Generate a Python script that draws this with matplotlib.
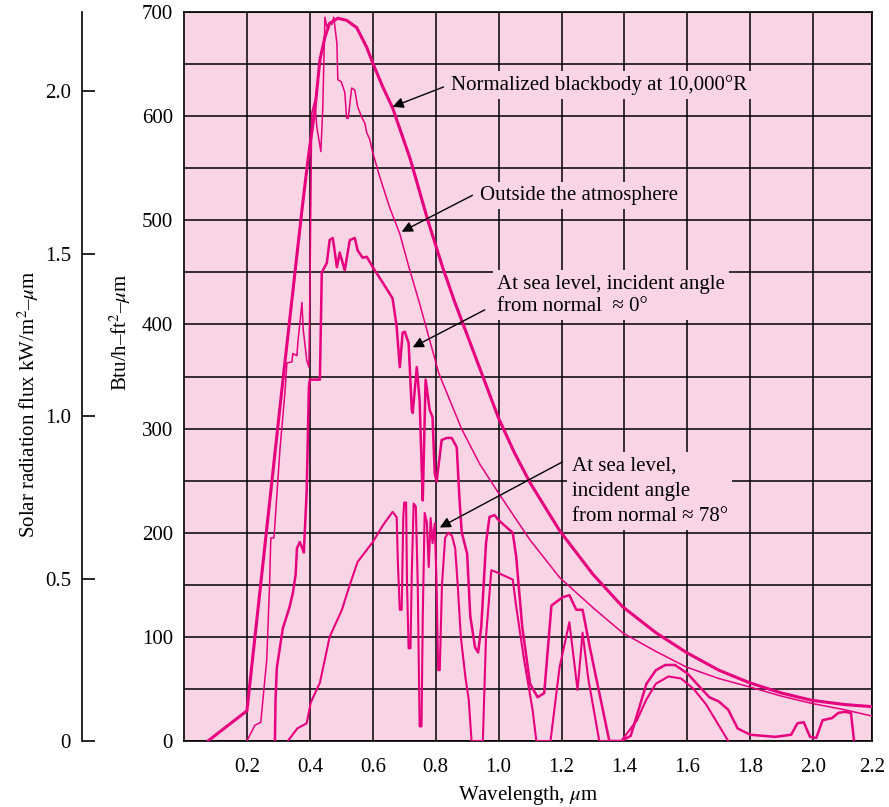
#!/usr/bin/python
"""Solar spectral irradiance vs. a normalized blackbody curve."""
import matplotlib
matplotlib.use('Agg')
from matplotlib import pyplot as plt
from matplotlib.ticker import MultipleLocator

plt.rcParams['font.family'] = ['Liberation Serif', 'DejaVu Serif']
plt.rcParams['mathtext.fontset'] = 'stix'

# Normalized blackbody at 10,000 R (Btu/h-ft2-um).
bb_wl = [0.076, 0.2, 0.311, 0.375, 0.394, 0.416, 0.432, 0.448, 0.463, 0.489,
         0.517, 0.549, 0.581, 0.6, 0.632, 0.663, 0.695, 0.72, 0.775, 0.822,
         0.86, 0.9, 0.95, 1.0, 1.05, 1.1, 1.194, 1.3, 1.394, 1.5,
         1.597, 1.7, 1.797, 1.9, 1.997, 2.1, 2.187]
bb_flux = [0, 29, 337, 510, 558, 606, 654, 676, 689, 694,
           692, 685, 666, 651, 628, 608, 580, 558, 500, 455,
           422, 390, 350, 310, 277, 248, 202, 160, 129, 104,
           85, 68, 56, 46, 39, 35, 33]

# Outside the atmosphere.
et_wl = [0.2, 0.225, 0.244, 0.263, 0.272, 0.276, 0.286, 0.305, 0.321, 0.327,
         0.343, 0.346, 0.359, 0.362, 0.375, 0.379, 0.39, 0.397, 0.401, 0.406,
         0.416, 0.422, 0.435, 0.441, 0.448, 0.454, 0.463, 0.47, 0.476, 0.486,
         0.489, 0.5, 0.511, 0.517, 0.522, 0.533, 0.543, 0.552, 0.565, 0.575,
         0.581, 0.59, 0.6, 0.622, 0.654, 0.686, 0.715, 0.749, 0.81, 0.882,
         0.94, 1.0, 1.1, 1.194, 1.3, 1.394, 1.5, 1.597, 1.7, 1.797,
         1.9, 1.997, 2.1, 2.187]
et_flux = [0, 15, 18, 78, 150, 195, 195, 280, 335, 363,
           364, 372, 370, 383, 421, 395, 366, 359, 450, 603,
           615, 590, 566, 606, 695, 686, 690, 688, 695, 670,
           635, 633, 623, 598, 598, 627, 625, 609, 599, 593,
           584, 578, 565, 542, 512, 487, 455, 420, 353, 300,
           266, 238, 193, 157, 128, 104, 86, 71, 60, 52,
           43, 36, 30, 24]

# At sea level, incident angle ~ 0 deg.
sea0_wl = [0.289, 0.291, 0.295, 0.314, 0.335, 0.346, 0.355, 0.359, 0.368, 0.375,
           0.381, 0.39, 0.397, 0.4, 0.406, 0.432, 0.438, 0.454, 0.463, 0.473,
           0.486, 0.495, 0.511, 0.527, 0.543, 0.552, 0.568, 0.581, 0.6, 0.632,
           0.663, 0.676, 0.686, 0.695, 0.702, 0.714, 0.724, 0.727, 0.74, 0.749,
           0.756, 0.759, 0.768, 0.781, 0.79, 0.797, 0.803, 0.819, 0.835, 0.851,
           0.867, 0.876, 0.883, 0.9, 0.91, 0.925, 0.935, 0.945, 0.96, 0.971,
           0.987, 1.0, 1.045, 1.056, 1.075, 1.1, 1.124, 1.145, 1.168, 1.203,
           1.225, 1.247, 1.267, 1.29, 1.352, 1.39, 1.42, 1.45, 1.47, 1.5,
           1.53, 1.56, 1.6, 1.63, 1.67, 1.7, 1.73, 1.76, 1.8, 1.88,
           1.93, 1.95, 1.97, 1.99, 2.01, 2.03, 2.06, 2.08, 2.1, 2.12,
           2.13]
sea0_flux = [0, 40, 70, 108, 128, 142, 160, 185, 191, 186,
             181, 240, 340, 347, 347, 347, 450, 459, 481, 483,
             455, 469, 452, 481, 483, 471, 464, 465, 455, 440,
             425, 398, 359, 392, 393, 382, 318, 315, 359, 327,
             257, 231, 347, 318, 311, 257, 249, 289, 291, 291,
             282, 231, 200, 180, 120, 90, 85, 110, 190, 215,
             217, 212, 200, 177, 110, 55, 42, 46, 130, 138,
             140, 126, 126, 90, 0, 0, 5, 35, 55, 68,
             73, 73, 65, 55, 42, 38, 30, 12, 6, 4,
             6, 17, 18, 4, 3, 20, 22, 27, 28, 27,
             0]

# At sea level, incident angle ~ 78 deg.
sea78_wl = [0.33, 0.36, 0.39, 0.403, 0.432, 0.463, 0.502, 0.527, 0.552, 0.6,
            0.632, 0.663, 0.676, 0.68, 0.686, 0.692, 0.697, 0.7, 0.706, 0.709,
            0.714, 0.72, 0.724, 0.73, 0.737, 0.743, 0.749, 0.755, 0.759, 0.765,
            0.772, 0.778, 0.784, 0.79, 0.797, 0.803, 0.808, 0.813, 0.82, 0.83,
            0.84, 0.852, 0.862, 0.87, 0.88, 0.895, 0.905, 0.914, 0.95, 0.96,
            0.977, 0.994, 1.045, 1.056, 1.08, 1.108, 1.12, 1.165, 1.194, 1.225,
            1.251, 1.267, 1.285, 1.32, 1.39, 1.44, 1.47, 1.5, 1.54, 1.58,
            1.62, 1.66, 1.7, 1.73]
sea78_flux = [0, 12, 17, 37, 56, 100, 126, 150, 172, 191,
              207, 220, 215, 170, 126, 126, 215, 229, 229, 150,
              89, 89, 160, 228, 225, 150, 14, 14, 120, 219,
              210, 167, 214, 190, 209, 150, 68, 68, 150, 195,
              200, 197, 185, 150, 100, 60, 40, 0, 0, 100,
              164, 162, 155, 129, 80, 30, 0, 0, 71, 114,
              49, 104, 60, 0, 0, 20, 40, 55, 62, 60,
              50, 35, 15, 0]

x_tick_pos = [0.2, 0.4, 0.6, 0.8, 1.0, 1.2, 1.4, 1.6, 1.8, 2.0, 2.187]
x_tick_labels = ['0.2', '0.4', '0.6', '0.8', '1.0', '1.2', '1.4', '1.6', '1.8', '2.0', '2.2']
kw_ticks = [0, 0.5, 1.0, 1.5, 2.0]
kw_labels = ['0', '0.5', '1.0', '1.5', '2.0']
BTU_PER_KW = 312.0

PINK = '#F8D4E5'
MAGENTA = '#E6007E'
FS = 15


def main():
    fig = plt.figure(figsize=(8.89, 8.07), dpi=100)
    ax = fig.add_axes([184 / 889, 66 / 807, 688 / 889, 729 / 807])
    ax.set_facecolor(PINK)
    ax.set_xlim(0, 2.187)
    ax.set_ylim(0, 700)
    ax.set_xticks(x_tick_pos, x_tick_labels)
    ax.set_yticks(range(0, 701, 100))
    ax.yaxis.set_minor_locator(MultipleLocator(50))
    ax.set_axisbelow(True)
    ax.grid(which='both', color='black', linewidth=1.1)
    ax.tick_params(which='both', length=0, labelsize=FS)
    ax.tick_params(axis='y', pad=8)
    ax.tick_params(axis='x', pad=12)
    for s in ax.spines.values():
        s.set_linewidth(1.2)

    # Curves
    ax.plot(bb_wl, bb_flux, color=MAGENTA, lw=2.2, zorder=3)
    ax.plot(et_wl, et_flux, color=MAGENTA, lw=1.1, zorder=3)
    ax.plot(sea0_wl, sea0_flux, color=MAGENTA, lw=1.8, zorder=3)
    ax.plot(sea78_wl, sea78_flux, color=MAGENTA, lw=1.5, zorder=3)

    # Annotations
    box = dict(facecolor=PINK, edgecolor='none', pad=3)
    arrow = dict(arrowstyle='-|>', color='black', lw=1.0, mutation_scale=16,
                 shrinkA=0, shrinkB=0)
    ax.annotate('', xy=(0.663, 609), xytext=(0.825, 628), arrowprops=arrow, zorder=5)
    ax.text(0.848, 630, 'Normalized blackbody at 10,000°R', fontsize=FS,
            va='center', ha='left', bbox=box, zorder=4)
    ax.annotate('', xy=(0.692, 489), xytext=(0.917, 524), arrowprops=arrow, zorder=5)
    ax.text(0.94, 524, 'Outside the atmosphere', fontsize=FS,
            va='center', ha='left', bbox=box, zorder=4)
    ax.annotate('', xy=(0.727, 378), xytext=(0.956, 414), arrowprops=arrow, zorder=5)
    ax.text(0.996, 428, 'At sea level, incident angle\nfrom normal  ≈ 0°', fontsize=FS,
            va='center', ha='left', linespacing=1.25, bbox=box, zorder=4)
    ax.annotate('', xy=(0.813, 205), xytext=(1.203, 268), arrowprops=arrow, zorder=5)
    ax.text(1.232, 240, 'At sea level,\nincident angle\nfrom normal ≈ 78°', fontsize=FS,
            va='center', ha='left', linespacing=1.45, bbox=box, zorder=4)

    ax.set_xlabel('Wavelength, $\\mu$m', fontsize=FS, labelpad=5)
    fig.text(120 / 889, 1 - 332 / 807, 'Btu/h–ft$^2$–$\\mu$m', rotation=90,
             ha='center', va='center', fontsize=FS)

    # Secondary scale in kW/m2-um
    ax2 = fig.add_axes([82 / 889, 66 / 807, 0.0001, 729 / 807])
    ax2.set_ylim(0, 700 / BTU_PER_KW)
    ax2.set_yticks(kw_ticks, kw_labels)
    ax2.set_xticks([])
    ax2.patch.set_visible(False)
    for s in ['top', 'right', 'bottom']:
        ax2.spines[s].set_visible(False)
    ax2.spines['left'].set_linewidth(1.2)
    ax2.tick_params(axis='y', direction='in', length=9.5, width=1.2, pad=8, labelsize=FS)
    fig.text(28 / 889, 1 - 404 / 807, 'Solar radiation flux kW/m$^2$–$\\mu$m', rotation=90,
             ha='center', va='center', fontsize=FS)

    fig.savefig('out.png', dpi=100)


if __name__ == '__main__':
    main()
